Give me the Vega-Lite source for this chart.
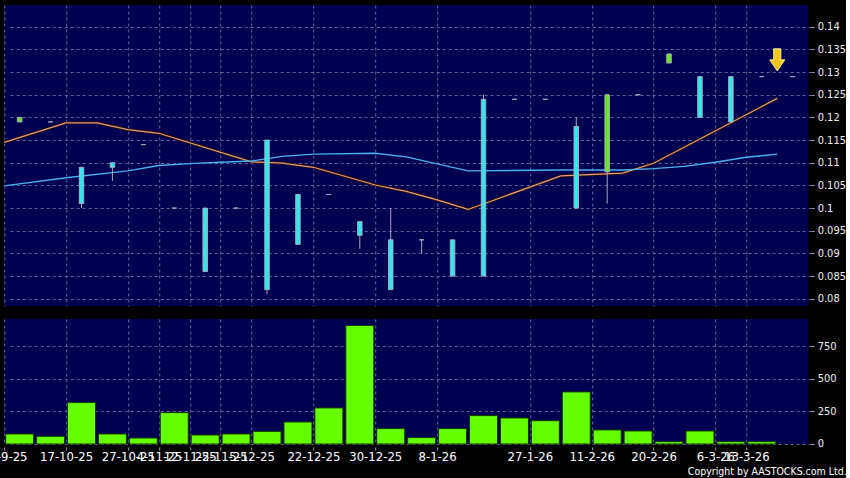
{
  "$schema": "https://vega.github.io/schema/vega-lite/v6.json",
  "background": "#000000",
  "padding": {"left": -18.8, "top": 5, "right": 0, "bottom": 0},
  "autosize": {"type": "pad"},
  "spacing": 13,
  "bounds": "flush",
  "config": {
    "view": {"fill": "#000050", "stroke": null},
    "font": "DejaVu Sans",
    "axis": {
      "domain": false,
      "gridColor": "#64649e",
      "gridDash": [3, 3],
      "gridWidth": 1,
      "labelColor": "#ffffff",
      "tickColor": "#a0a0a8",
      "titleColor": "#ffffff"
    },
    "axisY": {
      "orient": "right",
      "grid": true,
      "offset": 3,
      "tickSize": 3,
      "labelPadding": 3,
      "labelFont": "DejaVu Sans Condensed",
      "labelFontSize": 11,
      "labelColor": "#f0f0f0",
      "title": null
    }
  },
  "datasets": {
    "candles": [
      {"t": 0, "o": 0.119, "h": 0.12, "l": 0.119, "c": 0.12, "v": 77},
      {"t": 1, "o": 0.119, "h": 0.119, "l": 0.119, "c": 0.119, "v": 59},
      {"t": 2, "o": 0.109, "h": 0.109, "l": 0.1, "c": 0.101, "v": 318},
      {"t": 3, "o": 0.11, "h": 0.11, "l": 0.106, "c": 0.109, "v": 77},
      {"t": 4, "o": 0.114, "h": 0.114, "l": 0.114, "c": 0.114, "v": 46},
      {"t": 5, "o": 0.1, "h": 0.1, "l": 0.1, "c": 0.1, "v": 241},
      {"t": 6, "o": 0.1, "h": 0.1, "l": 0.086, "c": 0.086, "v": 69},
      {"t": 7, "o": 0.1, "h": 0.1, "l": 0.1, "c": 0.1, "v": 77},
      {"t": 8, "o": 0.115, "h": 0.115, "l": 0.081, "c": 0.082, "v": 97},
      {"t": 9, "o": 0.103, "h": 0.103, "l": 0.092, "c": 0.092, "v": 169},
      {"t": 10, "o": 0.103, "h": 0.103, "l": 0.103, "c": 0.103, "v": 277},
      {"t": 11, "o": 0.097, "h": 0.097, "l": 0.091, "c": 0.094, "v": 910},
      {"t": 12, "o": 0.093, "h": 0.1, "l": 0.082, "c": 0.082, "v": 118},
      {"t": 13, "o": 0.093, "h": 0.093, "l": 0.09, "c": 0.093, "v": 49},
      {"t": 14, "o": 0.093, "h": 0.093, "l": 0.085, "c": 0.085, "v": 118},
      {"t": 15, "o": 0.124, "h": 0.125, "l": 0.085, "c": 0.085, "v": 218},
      {"t": 16, "o": 0.124, "h": 0.124, "l": 0.124, "c": 0.124, "v": 200},
      {"t": 17, "o": 0.124, "h": 0.124, "l": 0.124, "c": 0.124, "v": 179},
      {"t": 18, "o": 0.118, "h": 0.12, "l": 0.1, "c": 0.1, "v": 400},
      {"t": 19, "o": 0.108, "h": 0.125, "l": 0.101, "c": 0.125, "v": 108},
      {"t": 20, "o": 0.125, "h": 0.125, "l": 0.125, "c": 0.125, "v": 100},
      {"t": 21, "o": 0.132, "h": 0.134, "l": 0.132, "c": 0.134, "v": 18},
      {"t": 22, "o": 0.129, "h": 0.129, "l": 0.12, "c": 0.12, "v": 100},
      {"t": 23, "o": 0.129, "h": 0.129, "l": 0.119, "c": 0.119, "v": 18},
      {"t": 24, "o": 0.129, "h": 0.129, "l": 0.129, "c": 0.129, "v": 18},
      {"t": 25, "o": 0.129, "h": 0.129, "l": 0.129, "c": 0.129, "v": null}
    ],
    "ma_fast": [
      {"t": -0.5, "ma": 0.1145},
      {"t": 1.5, "ma": 0.1188},
      {"t": 2.5, "ma": 0.1188},
      {"t": 3.5, "ma": 0.1173},
      {"t": 4.5, "ma": 0.1165},
      {"t": 7.5, "ma": 0.1102},
      {"t": 8.5, "ma": 0.1099},
      {"t": 9.5, "ma": 0.109},
      {"t": 11.5, "ma": 0.1051},
      {"t": 12.5, "ma": 0.1037},
      {"t": 13.5, "ma": 0.1018},
      {"t": 14.5, "ma": 0.0997},
      {"t": 17.5, "ma": 0.1071},
      {"t": 19.5, "ma": 0.1077},
      {"t": 20.5, "ma": 0.1099},
      {"t": 24.5, "ma": 0.1242}
    ],
    "ma_slow": [
      {"t": -0.5, "ma": 0.1049},
      {"t": 1.5, "ma": 0.1067},
      {"t": 3.5, "ma": 0.1082},
      {"t": 4.5, "ma": 0.1094},
      {"t": 5.5, "ma": 0.1098},
      {"t": 6.5, "ma": 0.1101},
      {"t": 7.5, "ma": 0.1104},
      {"t": 8.5, "ma": 0.1114},
      {"t": 9.5, "ma": 0.1119},
      {"t": 11.5, "ma": 0.1121},
      {"t": 12.5, "ma": 0.1113},
      {"t": 14.5, "ma": 0.1082},
      {"t": 17.5, "ma": 0.1084},
      {"t": 19.5, "ma": 0.1084},
      {"t": 20.5, "ma": 0.1087},
      {"t": 21.5, "ma": 0.1092},
      {"t": 22.5, "ma": 0.1101},
      {"t": 23.5, "ma": 0.1112},
      {"t": 24.5, "ma": 0.1119}
    ],
    "marker": [
      {"t": 24.5, "y": 0.1327}
    ]
  },
  "vconcat": [
    {
      "width": 804,
      "height": 301,
      "encoding": {
        "x": {
          "field": "t",
          "type": "quantitative",
          "scale": {"domain": [-0.5, 25.5], "nice": false, "zero": false, "padding": 0},
          "axis": {
            "values": [-0.5, 1.5, 3.5, 4.5, 5.5, 6.5, 7.5, 9.5, 11.5, 13.5, 16.5, 18.5, 20.5, 22.5, 23.5],
            "labels": false,
            "ticks": false,
            "grid": true,
            "title": null
          }
        }
      },
      "layer": [
        {
          "data": {"name": "ma_fast"},
          "mark": {"type": "line", "color": "#2e0a0a", "strokeWidth": 3},
          "encoding": {
            "y": {
              "field": "ma",
              "type": "quantitative",
              "scale": {"domain": [0.0784, 0.1448], "nice": false, "zero": false},
              "axis": {"values": [0.08, 0.085, 0.09, 0.095, 0.1, 0.105, 0.11, 0.115, 0.12, 0.125, 0.13, 0.135, 0.14], "format": ".3~f"}
            }
          }
        },
        {
          "data": {"name": "ma_fast"},
          "mark": {"type": "line", "color": "#dc9f82", "strokeWidth": 1.2},
          "encoding": {
            "y": {
              "field": "ma",
              "type": "quantitative",
              "scale": {"domain": [0.0784, 0.1448], "nice": false, "zero": false},
              "axis": {"values": [0.08, 0.085, 0.09, 0.095, 0.1, 0.105, 0.11, 0.115, 0.12, 0.125, 0.13, 0.135, 0.14], "format": ".3~f"}
            }
          }
        },
        {
          "data": {"name": "ma_slow"},
          "mark": {"type": "line", "color": "#4aaef0", "strokeWidth": 1.4},
          "encoding": {
            "y": {
              "field": "ma",
              "type": "quantitative",
              "scale": {"domain": [0.0784, 0.1448], "nice": false, "zero": false},
              "axis": {"values": [0.08, 0.085, 0.09, 0.095, 0.1, 0.105, 0.11, 0.115, 0.12, 0.125, 0.13, 0.135, 0.14], "format": ".3~f"}
            }
          }
        },
        {
          "data": {"name": "candles"},
          "mark": {"type": "rule", "color": "#a8a8b8", "strokeWidth": 1},
          "encoding": {
            "y": {
              "field": "l",
              "type": "quantitative",
              "scale": {"domain": [0.0784, 0.1448], "nice": false, "zero": false},
              "axis": {"values": [0.08, 0.085, 0.09, 0.095, 0.1, 0.105, 0.11, 0.115, 0.12, 0.125, 0.13, 0.135, 0.14], "format": ".3~f"}
            },
            "y2": {"field": "h"}
          }
        },
        {
          "data": {"name": "candles"},
          "mark": {"type": "bar", "size": 4.5, "stroke": "#a4aac4", "strokeWidth": 1},
          "encoding": {
            "y": {
              "field": "o",
              "type": "quantitative",
              "scale": {"domain": [0.0784, 0.1448], "nice": false, "zero": false},
              "axis": {"values": [0.08, 0.085, 0.09, 0.095, 0.1, 0.105, 0.11, 0.115, 0.12, 0.125, 0.13, 0.135, 0.14], "format": ".3~f"}
            },
            "y2": {"field": "c"},
            "fill": {"condition": {"test": "datum.c > datum.o", "value": "#6be61e"}, "value": "#30e8ee"}
          }
        },
        {
          "data": {"name": "marker"},
          "mark": {
            "type": "point",
            "shape": "M-0.32,-1L0.32,-1L0.32,0L0.68,0L0,1L-0.68,0L-0.32,0Z",
            "filled": true,
            "fill": "#f5c518",
            "stroke": "#fff3a0",
            "strokeWidth": 1,
            "size": 484,
            "opacity": 1
          },
          "encoding": {
            "y": {
              "field": "y",
              "type": "quantitative",
              "scale": {"domain": [0.0784, 0.1448], "nice": false, "zero": false},
              "axis": {"values": [0.08, 0.085, 0.09, 0.095, 0.1, 0.105, 0.11, 0.115, 0.12, 0.125, 0.13, 0.135, 0.14], "format": ".3~f"}
            }
          }
        }
      ]
    },
    {
      "width": 804,
      "height": 125,
      "data": {"name": "candles"},
      "mark": {"type": "bar", "size": 28, "fill": "#66ff00", "stroke": "#143800", "strokeWidth": 1},
      "encoding": {
        "x": {
          "field": "t",
          "type": "quantitative",
          "scale": {"domain": [-0.5, 25.5], "nice": false, "zero": false, "padding": 0},
          "axis": {
            "values": [-0.5, 1.5, 3.5, 4.5, 5.5, 6.5, 7.5, 9.5, 11.5, 13.5, 16.5, 18.5, 20.5, 22.5, 23.5],
            "labelExpr": "{'-0.5':'29-9-25','1.5':'17-10-25','3.5':'27-10-25','4.5':'4-11-25','5.5':'12-11-25','6.5':'25-11-25','7.5':'5-12-25','9.5':'22-12-25','11.5':'30-12-25','13.5':'8-1-26','16.5':'27-1-26','18.5':'11-2-26','20.5':'20-2-26','22.5':'6-3-26','23.5':'13-3-26'}[datum.value]",
            "grid": true,
            "ticks": true,
            "tickSize": 3,
            "offset": 3,
            "labelFontSize": 11.7,
            "labelColor": "#ffffff",
            "labelOverlap": false,
            "labelFlush": false,
            "labelBound": false,
            "labelPadding": 2,
            "title": "Copyright by AASTOCKS.com Ltd.",
            "titleFont": "DejaVu Sans Condensed",
            "titleFontSize": 10.5,
            "titleFontWeight": "normal",
            "titleColor": "#ffffff",
            "titleX": 842,
            "titleY": 25,
            "titleAlign": "right",
            "titleBaseline": "middle"
          }
        },
        "y": {
          "field": "v",
          "type": "quantitative",
          "scale": {"domain": [0, 960], "nice": false},
          "axis": {"values": [0, 250, 500, 750]}
        }
      }
    }
  ]
}
